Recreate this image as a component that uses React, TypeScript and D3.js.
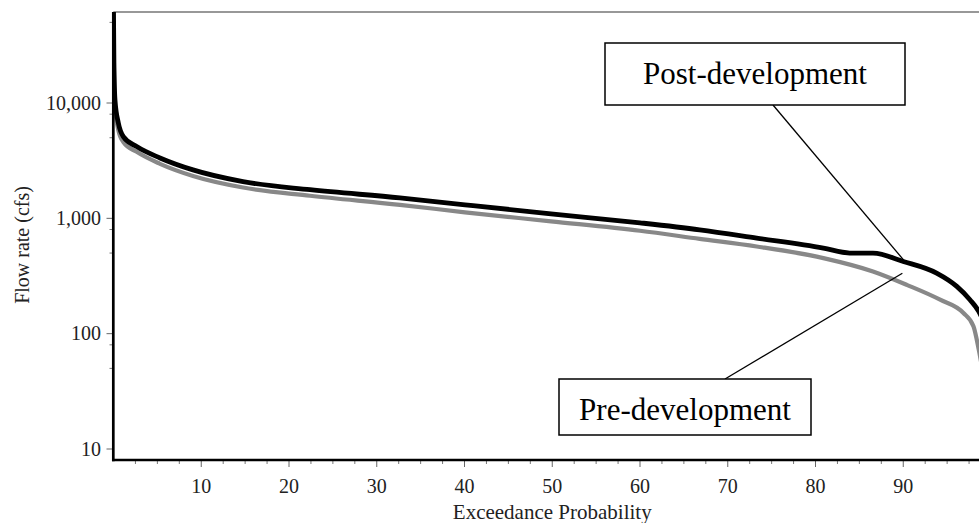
import React from 'react';
import * as d3 from 'd3';

// Exceedance probability (%) and flow rate (cfs)
const postProb = [0, 0.05, 0.17, 0.55, 1.12, 2.64, 5.3, 9.06, 14.76, 22.4, 32.65, 40.06, 49.86, 60.0, 66.8, 73.3, 80.9, 83.9, 86.55, 90.0, 93.8, 96.1, 97.6, 98.6, 99.3];
const postFlow = [62000, 22000, 10600, 6720, 5110, 4190, 3340, 2630, 2080, 1770, 1505, 1310, 1094, 914, 795, 674, 552, 500, 500, 423, 335, 257, 197, 156, 120];

const preProb = [0, 0.05, 0.17, 0.55, 1.12, 2.64, 5.3, 9.06, 14.76, 22.4, 32.65, 40.06, 49.86, 60.0, 66.8, 73.3, 80.9, 86.55, 90.4, 94.2, 96.86, 98.0, 98.6, 99.0];
const preFlow = [60000, 20000, 9600, 5830, 4590, 3770, 2970, 2330, 1850, 1570, 1310, 1127, 942, 780, 664, 570, 452, 346, 265, 197, 151, 116, 73, 50];

const xTickValues = [10, 20, 30, 40, 50, 60, 70, 80, 90];
const yTickValues = [10, 100, 1000, 10000];
const yTickLabels = ['10', '100', '1,000', '10,000'];
const yMinorMultipliers = [5, 8];

const seriesNames = ['Post-development', 'Pre-development'];
// annotation anchor points on the curves (probability, flow)
const postAnchor = [90.2, 421];
const preAnchor = [89.9, 334];

const FONT = '"Liberation Serif", "Times New Roman", serif';

export default function App() {
  const W = 979, H = 523;
  const left = 113.3, top = 12, bottom = 460, right = 991;
  const x = d3.scaleLinear().domain([0, 100]).range([113.5, 991]);
  const y = d3.scaleLog().domain([10, 10000]).range([449, 103]);

  const line = d3.line<[number, number]>()
    .x(d => x(d[0]))
    .y(d => y(d[1]))
    .curve(d3.curveMonotoneX);

  const postData: [number, number][] = postProb.map((p, i) => [p, postFlow[i]]);
  const preData: [number, number][] = preProb.map((p, i) => [p, preFlow[i]]);

  const xMinor = d3.range(2.5, 100, 2.5).filter(v => v % 10 !== 0);
  const yMinor: number[] = [];
  [1, 10, 100, 1000, 10000].forEach(dec => yMinorMultipliers.forEach(m => {
    const v = dec * m;
    if (y(v) >= top && y(v) <= bottom) yMinor.push(v);
  }));

  return (
    <svg width={W} height={H} style={{ position: 'absolute', left: 0, top: 0, background: '#fff' }}>
      <defs>
        <clipPath id="plot">
          <rect x={left} y={top} width={right - left} height={bottom - top} />
        </clipPath>
      </defs>
      <rect x={0} y={0} width={W} height={H} fill="#fff" />

      {/* frame top */}
      <line x1={left} x2={right} y1={top} y2={top} stroke="#333" strokeWidth={1.2} />

      {/* curves */}
      <g clipPath="url(#plot)">
        <path d={line(preData) || ''} fill="none" stroke="#888888" strokeWidth={4.2} strokeLinejoin="round" />
        <path d={line(postData) || ''} fill="none" stroke="#000" strokeWidth={4.8} strokeLinejoin="round" />
      </g>

      {/* y axis */}
      {yMinor.map(v => (
        <line key={'ym' + v} x1={109.5} x2={112} y1={y(v)} y2={y(v)} stroke="#777" strokeWidth={1} />
      ))}
      {yTickValues.map((v, i) => (
        <g key={'y' + v}>
          <line x1={106.5} x2={112} y1={y(v)} y2={y(v)} stroke="#666" strokeWidth={1} />
          <text x={101} y={y(v)} dy="0.34em" textAnchor="end" fontFamily={FONT} fontSize={20} fill="#222">{yTickLabels[i]}</text>
        </g>
      ))}

      {/* x axis */}
      {xMinor.map(v => (
        <line key={'xm' + v} x1={x(v)} x2={x(v)} y1={461} y2={464} stroke="#777" strokeWidth={1} />
      ))}
      {xTickValues.map(v => (
        <g key={'x' + v}>
          <line x1={x(v)} x2={x(v)} y1={461} y2={467} stroke="#666" strokeWidth={1} />
          <text x={x(v)} y={493} textAnchor="middle" fontFamily={FONT} fontSize={20} fill="#222">{v}</text>
        </g>
      ))}

      <line x1={left} x2={left} y1={top} y2={bottom + 1.3} stroke="#000" strokeWidth={2.7} />
      <line x1={left - 1.3} x2={right} y1={bottom} y2={bottom} stroke="#000" strokeWidth={2.7} />

      {/* axis titles */}
      <text x={(113.5 + 991) / 2} y={519} textAnchor="middle" fontFamily={FONT} fontSize={21} fill="#222">Exceedance Probability</text>
      <text transform={`translate(29,245) rotate(-90)`} textAnchor="middle" fontFamily={FONT} fontSize={20} fill="#222">Flow rate (cfs)</text>

      {/* annotations */}
      <line x1={773} y1={105} x2={x(postAnchor[0])} y2={y(postAnchor[1])} stroke="#000" strokeWidth={1.3} />
      <line x1={725} y1={379} x2={x(preAnchor[0])} y2={y(preAnchor[1])} stroke="#000" strokeWidth={1.3} />

      <rect x={605} y={43} width={300} height={62} fill="#fff" stroke="#000" strokeWidth={1.5} />
      <text x={755} y={84} textAnchor="middle" fontFamily={FONT} fontSize={31} fill="#000">{seriesNames[0]}</text>

      <rect x={559} y={379} width={252} height={56} fill="#fff" stroke="#000" strokeWidth={1.5} />
      <text x={685} y={420} textAnchor="middle" fontFamily={FONT} fontSize={31} fill="#000">{seriesNames[1]}</text>
    </svg>
  );
}
